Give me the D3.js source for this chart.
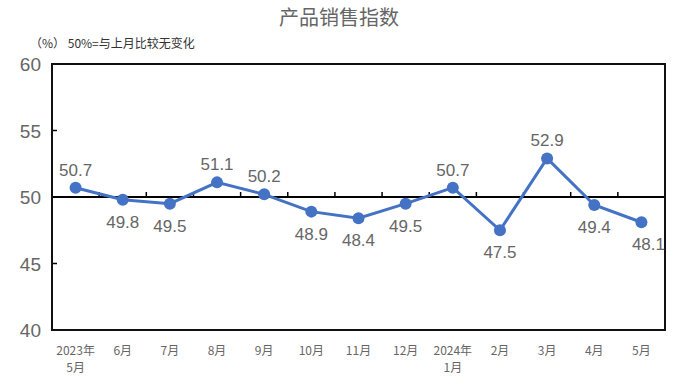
<!DOCTYPE html>
<html><head><meta charset="utf-8">
<script src="https://cdn.jsdelivr.net/npm/d3@7"></script>
<style>body{margin:0;background:#fff;font-family:"Noto Sans CJK SC","Microsoft YaHei",sans-serif;}</style>
</head><body><svg id="c" width="678" height="388"></svg>
<script>
const categories = ["2023年\n5月","6月","7月","8月","9月","10月","11月","12月","2024年\n1月","2月","3月","4月","5月"];
const values = [50.7,49.8,49.5,51.1,50.2,48.9,48.4,49.5,50.7,47.5,52.9,49.4,48.1];
const labelAbove = [true,false,false,true,true,false,false,false,true,false,true,false,false];
const yTicks = [40,45,50,55,60];
const title = "产品销售指数";
const subtitle = "（%）  50%=与上月比较无变化";

const svg = d3.select("#c");
const m = {l:52, r:13, t:64, b:58};
const W = 678, H = 388;
const x = d3.scaleBand().domain(d3.range(categories.length)).range([m.l, W-m.r]);
const y = d3.scaleLinear().domain([40,60]).range([H-m.b, m.t]);
const font = '"Noto Sans CJK SC","Microsoft YaHei",sans-serif';
const gray = "#666";

svg.append("text").attr("x",339).attr("y",25).attr("text-anchor","middle")
  .attr("font-size",20).attr("fill","#666").attr("font-family",font).text(title);
svg.append("text").attr("x",30).attr("y",48).attr("font-size",12).attr("fill","#333")
  .attr("font-family",font).text(subtitle);

// y tick labels
svg.append("g").selectAll("text").data(yTicks).join("text")
  .attr("x",41).attr("y",d=>y(d)+7).attr("text-anchor","end")
  .attr("font-size",19).attr("fill",gray).attr("font-family","Liberation Sans, Arial, sans-serif")
  .text(d=>d);
// y inward ticks
svg.append("g").selectAll("line").data(yTicks).join("line")
  .attr("x1",m.l).attr("x2",m.l+5).attr("y1",d=>y(d)).attr("y2",d=>y(d))
  .attr("stroke","#000").attr("stroke-width",1.5);

// 50 baseline with ticks
svg.append("line").attr("x1",m.l).attr("x2",W-m.r).attr("y1",y(50)).attr("y2",y(50))
  .attr("stroke","#000").attr("stroke-width",1.8);
svg.append("g").selectAll("line").data(d3.range(1,categories.length)).join("line")
  .attr("x1",d=>x(d)).attr("x2",d=>x(d)).attr("y1",y(50)).attr("y2",y(50)-5)
  .attr("stroke","#000").attr("stroke-width",1.5);

// frame
svg.append("rect").attr("x",m.l).attr("y",m.t).attr("width",W-m.l-m.r).attr("height",H-m.t-m.b)
  .attr("fill","none").attr("stroke","#111").attr("stroke-width",2);

// x labels
const xl = svg.append("g").selectAll("text").data(categories).join("text")
  .attr("text-anchor","middle").attr("font-size",12).attr("fill",gray).attr("font-family",font);
xl.each(function(d,i){
  const parts = d.split("\n");
  const t = d3.select(this);
  parts.forEach((p,j)=>{
    t.append("tspan").attr("x",x(i)+x.bandwidth()/2).attr("y",H-m.b+25+j*17).text(p);
  });
});

// line
const cx = i => x(i)+x.bandwidth()/2;
svg.append("path").datum(values)
  .attr("d",d3.line().x((d,i)=>cx(i)).y(d=>y(d)))
  .attr("fill","none").attr("stroke","#4472C4").attr("stroke-width",3);
svg.append("g").selectAll("circle").data(values).join("circle")
  .attr("cx",(d,i)=>cx(i)).attr("cy",d=>y(d)).attr("r",6).attr("fill","#4472C4");

// data labels
svg.append("g").selectAll("text").data(values).join("text")
  .attr("x",(d,i)=>cx(i)+(i===values.length-1?7:0))
  .attr("y",(d,i)=>labelAbove[i]?y(d)-12:y(d)+28)
  .attr("text-anchor","middle").attr("font-size",17).attr("fill",gray)
  .attr("font-family","Liberation Sans, Arial, sans-serif")
  .text(d=>d.toFixed(1));
</script></body></html>
